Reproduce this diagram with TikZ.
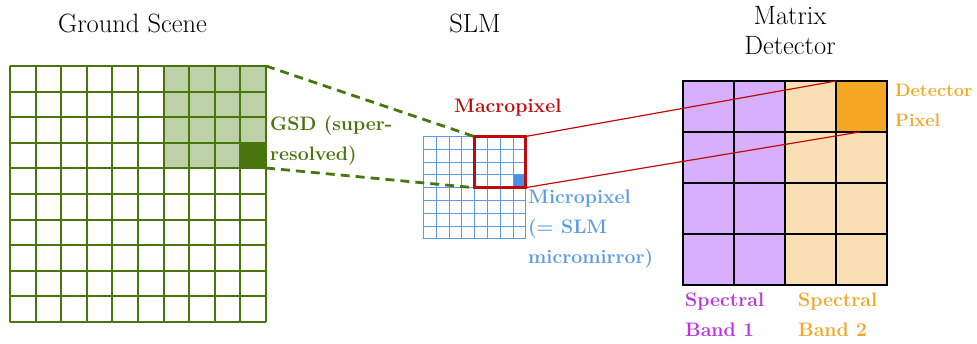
\documentclass[tikz,border=0pt]{standalone}
\usepackage{xcolor}
\usepackage{tikz}
\usetikzlibrary{positioning}
\definecolor{groundgreen}{RGB}{72,118,12}
\definecolor{groundlight}{RGB}{190,208,168}
\definecolor{slmblue}{RGB}{92,156,230}
\definecolor{microblue}{RGB}{74,144,226}
\definecolor{macrored}{RGB}{190,10,10}
\definecolor{bandpurple}{RGB}{216,174,255}
\definecolor{bandpurpletext}{RGB}{190,50,230}
\definecolor{bandorange}{RGB}{250,223,180}
\definecolor{pixelorange}{RGB}{245,166,35}

\begin{document}
\begin{tikzpicture}[
    x=1pt, y=-1pt,
    title/.style={font=\fontsize{26.5}{30}\selectfont, align=center, inner sep=0pt},
    tag/.style={font=\fontsize{19.5}{30}\selectfont\bfseries, align=left, anchor=base west, inner sep=0pt},
    block/.style={inner sep=0pt, outer sep=0pt},
    groundline/.style={line width=2pt, groundgreen},
    slmline/.style={line width=1.5pt, slmblue},
    detline/.style={line width=1.3pt, black},
    zoomdash/.style={dash pattern=on 9pt off 6pt, line width=2.8pt, groundgreen},
    relay/.style={line width=1.2pt, macrored},
]
\useasboundingbox (0,0) rectangle (977,344);

% === Titles ===
% (base of a multi-line node = baseline of its last line)
\node[title, anchor=base] (tground) at (132.5,33) {Ground Scene};
\node[title, anchor=base] (tslm) at (475,33) {SLM};
\node[title, anchor=base] (tdet) at (790,55) {Matrix\\Detector};

% === Ground scene (10 x 10) ===
\node[block, minimum size=256pt, anchor=north west] (ground) at (10,66) {};
\node[block, fill=groundlight, minimum size=102pt, anchor=north east] (gsd) at (ground.north east) {};
\node[block, fill=groundgreen, minimum size=26pt, anchor=south east] (gsdcell) at (gsd.south east) {};
\foreach \i [evaluate=\i as \p using {round(25.6*\i)}] in {0,...,10}{
    \draw[groundline] (10+\p,66) -- (10+\p,322);
    \draw[groundline] (10,66+\p) -- (266,66+\p);
}
\node[tag, text=groundgreen] (lgsd) at (270,160.5) {GSD (super-\\resolved)};

% === SLM (8 x 8) ===
\node[block, minimum size=102.4pt, anchor=north west] (slm) at (423,136.5) {};
\node[block, minimum size=51.2pt, anchor=north east] (macro) at (slm.north east) {};
\node[block, fill=microblue, minimum size=12.8pt, anchor=south east] (micro) at (macro.south east) {};
\foreach \i [evaluate=\i as \p using {round(12.8*\i)+0.5}] in {0,...,8}{
    \draw[slmline] (423+\p,136.5) -- (423+\p,238.9);
    \draw[slmline] (422.5,136+\p) -- (525.9,136+\p);
}
\draw[macrored, line width=2.8pt] (macro.north west) rectangle (macro.south east);
\node[tag, text=macrored] (lmacro) at (454,113) {Macropixel};
\node[tag, text=slmblue] (lmicro) at (528,264) {Micropixel\\(= SLM\\micromirror)};

% === Matrix detector (4 x 4) ===
\node[block, minimum size=204pt, anchor=north west] (det) at (683,81) {};
\node[block, fill=bandpurple, minimum width=102pt, minimum height=204pt, anchor=north west] (band1) at (det.north west) {};
\node[block, fill=bandorange, minimum width=102pt, minimum height=204pt, anchor=north east] (band2) at (det.north east) {};
\node[block, fill=pixelorange, minimum size=51pt, anchor=north east] (detpix) at (det.north east) {};
\foreach \i in {0,...,4}{
    \draw[detline] (683+51*\i,81) -- (683+51*\i,285);
    \draw[detline] (683,81+51*\i) -- (887,81+51*\i);
}
\draw[line width=2pt] (band1.north west) rectangle (band1.south east);
\draw[line width=2pt] (band2.north west) rectangle (band2.south east);
\draw[line width=2pt] (detpix.north west) rectangle (detpix.south east);
\node[tag, text=pixelorange, font=\fontsize{18}{30}\selectfont\bfseries] (lpix) at (895,127) {Detector\\Pixel};
\node[tag, text=bandpurpletext] (lband1) at (685,337) {Spectral\\Band 1};
\node[tag, text=pixelorange] (lband2) at (798,337) {Spectral\\Band 2};

% === Connectors ===
\draw[zoomdash] (gsd.north east) -- (macro.north west);
\draw[zoomdash] (gsd.south east) -- (macro.south west);
\draw[relay] (macro.north east) -- (detpix.north west);
\draw[relay] (macro.south east) -- ([xshift=-2pt]detpix.south);

\end{tikzpicture}
\end{document}
